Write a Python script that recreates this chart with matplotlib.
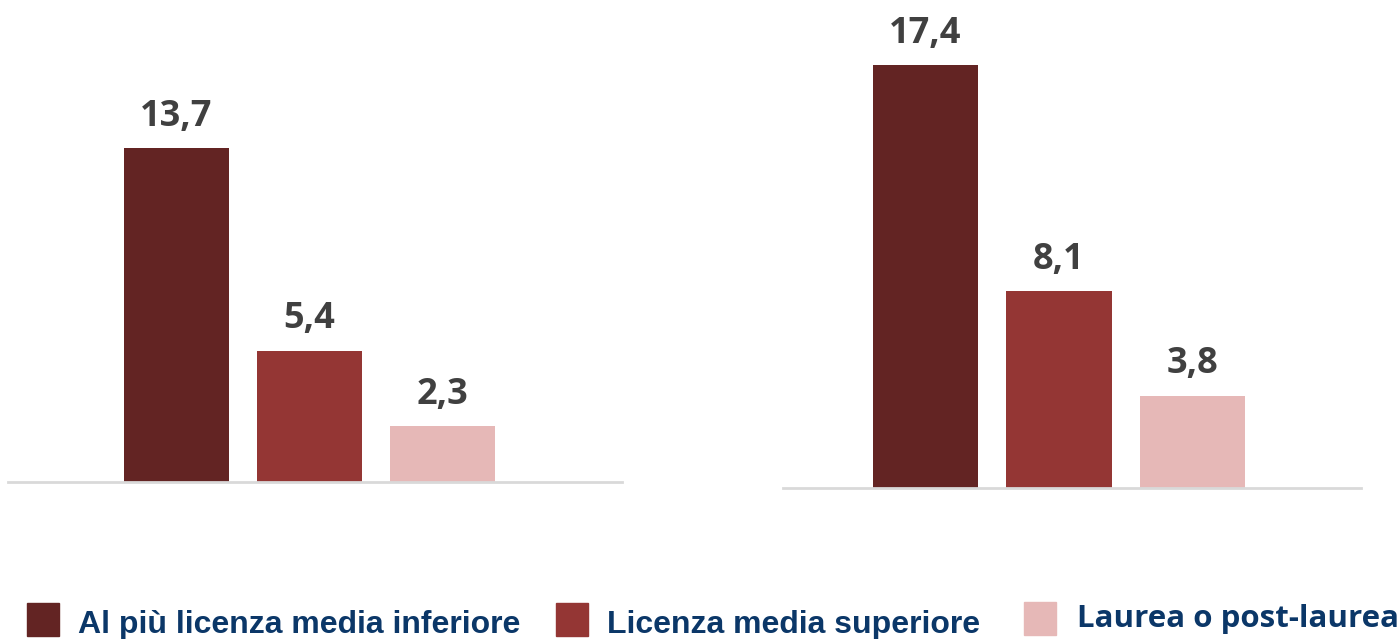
import matplotlib
matplotlib.use("Agg")
import matplotlib.pyplot as plt
from matplotlib.patches import Rectangle

# dati
categorie = ["Al più licenza media inferiore", "Licenza media superiore", "Laurea o post-laurea"]
valori_sx = [13.7, 5.4, 2.3]
valori_dx = [17.4, 8.1, 3.8]
colori = ["#632423", "#943634", "#E6B8B7"]

W, H = 1398, 639
fig = plt.figure(figsize=(W / 100, H / 100), dpi=100)


def px_axes(x0, x1, y_base, y_top):
    # coordinate in pixel (origine in alto a sinistra) -> frazioni della figura
    return fig.add_axes([x0 / W, (H - y_base) / H, (x1 - x0) / W, (y_base - y_top) / H])


def pannello(ax, valori, xlim, ymax):
    pos = list(range(len(valori)))
    ax.bar(pos, valori, width=0.79, color=colori, edgecolor="none", zorder=2)
    for p, v in zip(pos, valori):
        ax.annotate(f"{v:.1f}".replace(".", ","), (p, v), xytext=(0, 16),
                    textcoords="offset points", ha="center", va="baseline",
                    fontsize=26, fontweight="bold", color="#404040",
                    family=["Open Sans", "DejaVu Sans"])
    ax.set_xlim(*xlim)
    ax.set_ylim(0, ymax)
    for s in ["top", "right", "left"]:
        ax.spines[s].set_visible(False)
    ax.spines["bottom"].set_color("#D9D9D9")
    ax.spines["bottom"].set_linewidth(2)
    ax.set_xticks([])
    ax.set_yticks([])
    ax.patch.set_alpha(0)


ax1 = px_axes(8, 622, 482, 482 - 19 * 24.35)
pannello(ax1, valori_sx, (-1.263, 3.35), 19)

ax2 = px_axes(783, 1361, 488, 488 - 19.5 * 24.31)
pannello(ax2, valori_dx, (-1.067, 3.262), 19.5)

# legenda
leg_box = [(27, 603), (556, 603), (1024, 602)]
leg_txt = [(78, 633), (607, 633), (1077, 627)]
font_leg = [["Liberation Sans", "DejaVu Sans"],
            ["Liberation Sans", "DejaVu Sans"],
            ["Open Sans", "DejaVu Sans"]]
size_leg = [23, 23, 22.5]
for i, cat in enumerate(categorie):
    bx, by = leg_box[i]
    fig.patches.append(Rectangle((bx / W, (H - by - 33) / H), 32 / W, 33 / H,
                                 transform=fig.transFigure, color=colori[i]))
    tx, ty = leg_txt[i]
    fig.text(tx / W, (H - ty) / H, cat, ha="left", va="baseline",
             fontsize=size_leg[i], fontweight="bold", color="#0B3768",
             family=font_leg[i])

fig.savefig("out.png", dpi=100)
